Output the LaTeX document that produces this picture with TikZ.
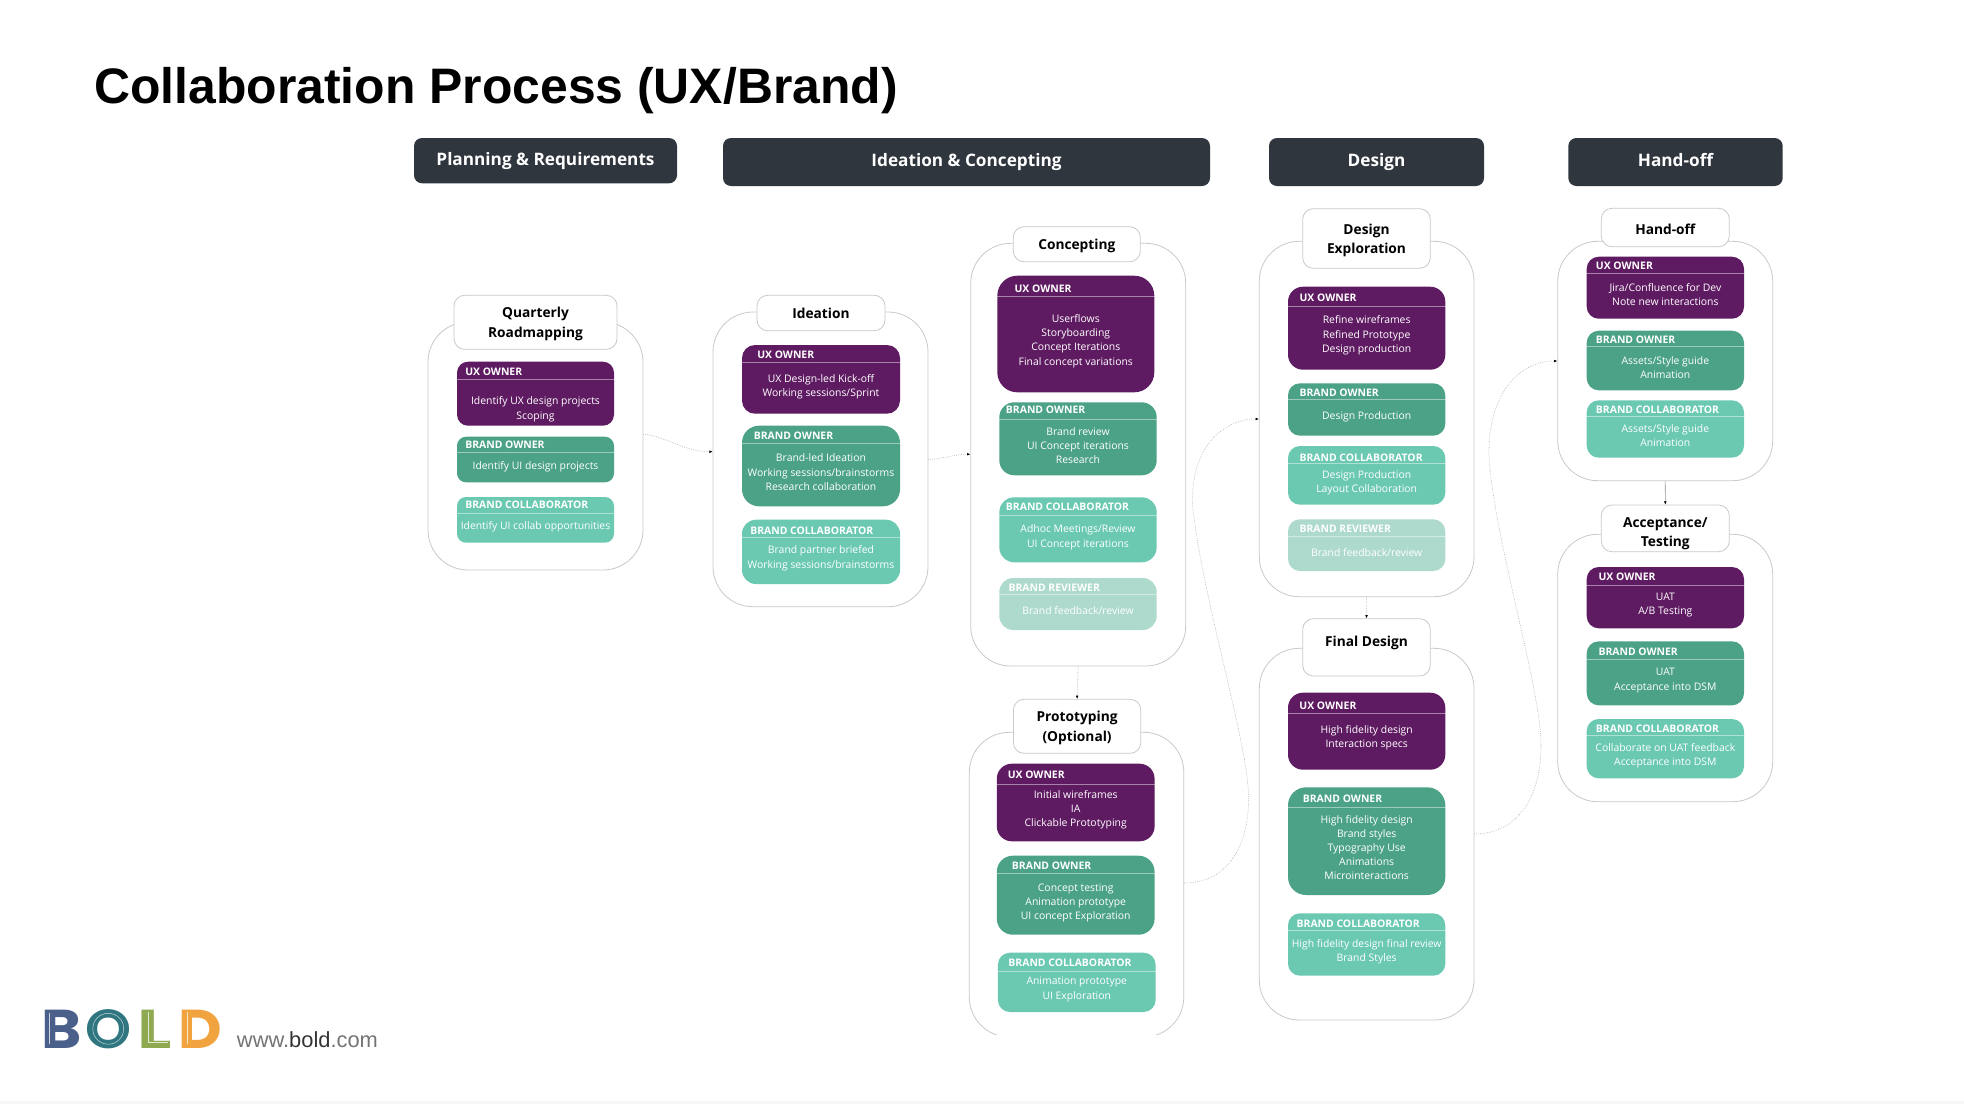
\documentclass[tikz,border=0pt]{standalone}
\usepackage{fontspec}
\setmainfont{Open Sans}
\newfontfamily\arialfont{Liberation Sans}
\newfontfamily\logofont{Poppins}
\usetikzlibrary{arrows.meta}
\definecolor{uxcol}{HTML}{5F1B62}
\definecolor{brandcol}{HTML}{4BA287}
\definecolor{collabcol}{HTML}{6BC9B2}
\definecolor{reviewcol}{HTML}{AEDACD}
\definecolor{headcol}{HTML}{2F363D}
\definecolor{framecol}{HTML}{C9C9C9}
\def\labuxbox{UX OWNER}
\def\labbrandbox{BRAND OWNER}
\def\labcollabbox{BRAND COLLABORATOR}
\def\labreviewbox{BRAND REVIEWER}
\begin{document}
\begin{tikzpicture}[
x=.75pt,y=-.75pt,
rolebox/.style={
  inner sep=0pt,
  text=white
  },
uxbox/.style={rolebox,fill=uxcol},
brandbox/.style={rolebox,fill=brandcol},
collabbox/.style={rolebox,fill=collabcol},
reviewbox/.style={rolebox,fill=reviewcol},
rolelabel/.style={
  anchor=west,
  inner sep=0pt,
  text=white,
  yshift=-.4pt,
  font=\fontsize{7.8}{9}\selectfont\bfseries
  },
roletext/.style={
  inner sep=0pt,
  align=center,
  text=white,
  yshift=-.9pt,
  font=\fontsize{7.8}{10.65}\selectfont
  },
sepline/.style={draw=white,draw opacity=.45,line width=.6pt},
outerbox/.style={
  draw=framecol,
  fill=white,
  line width=.6pt,
  rounded corners=30pt,
  inner sep=0pt
  },
titlebox/.style={
  draw=framecol,
  fill=white,
  line width=.6pt,
  rounded corners=8pt,
  inner sep=0pt
  },
titletext/.style={
  inner sep=0pt,
  align=center,
  yshift=-1.1pt,
  font=\fontsize{10.3}{14.6}\selectfont\bfseries
  },
headbox/.style={
  fill=headcol,
  text=white,
  rounded corners=6pt,
  inner sep=0pt,
  text height=.9em,
  text depth=.2em,
  font=\fontsize{12.9}{14}\selectfont\bfseries
  },
flow/.style={
  draw=gray!85,
  line width=.4pt,
  densely dotted,
  -{Latex[length=2.4pt,width=2pt,black]}
  },
logoletter/.style={
  anchor=base west,
  inner sep=0pt,
  transform shape,
  font=\logofont\fontsize{41}{41}\selectfont\bfseries
  },
logoline/.style={draw=white,draw opacity=.75,line width=.35pt}
]
\useasboundingbox (0,0) rectangle (1964,1104);
\fill[gray!6] (0,1101) rectangle (1964,1104);
\node[anchor=west,inner sep=0pt,font=\arialfont\fontsize{37.4}{44}\selectfont\bfseries] (pagetitle) at (94,91) {Collaboration Process (UX/Brand)};

% phase headers
\foreach \nm/\xa/\xb/\ya/\yb/\txt in {
  hplan/414/677/138/183.3/{Planning \& Requirements},
  hidea/723/1210/138/186/{Ideation \& Concepting},
  hdesign/1269/1484/138/186/{Design},
  hhand/1568.3/1782.7/138/186/{Hand-off}}
  \node[headbox,minimum width={(\xb-\xa)*.75pt},minimum height={(\yb-\ya)*.75pt}] (\nm) at ({(\xa+\xb)/2},{(\ya+\yb)/2}) {\txt};

% frames, with their title tabs
\foreach \nm/\xa/\xb/\ya/\yb/\txa/\txb/\tya/\tyb/\ty/\txt in {
  qrt/428/643/322/570/454/617/295.3/349.3/322.6/{Quarterly\\Roadmapping},
  ide/713/928/312/606.7/757/885/295.3/330.7/311.5/{Ideation},
  cpt/970.7/1185.7/243.3/666/1013.3/1140.3/226.7/261.7/244.3/{Concepting},
  dex/1259.3/1474/241.3/596.7/1302.7/1430.3/208.7/268.3/239/{Design\\Exploration},
  fin/1259.3/1474/648.3/1020/1302.7/1430.3/618.7/676/641.7/{Final Design},
  hnd/1557.7/1772.7/241.3/480.7/1601.3/1729.3/208.3/246.7/228/{Hand-off},
  acc/1557.7/1772.7/534.3/801.7/1601.3/1729.3/505/551.7/532.3/{Acceptance/\\Testing},
  prt/969.3/1183.8/732.3/1037/1013.4/1140.8/699.3/753.3/726.3/{Prototyping\\(Optional)}}
{
  \begin{scope}
    \clip (0,0) rectangle (1964,1034);
    \node[outerbox,minimum width={(\xb-\xa)*.75pt},minimum height={(\yb-\ya)*.75pt}] (\nm) at ({(\xa+\xb)/2},{(\ya+\yb)/2}) {};
  \end{scope}
  \node[titlebox,minimum width={(\txb-\txa)*.75pt},minimum height={(\tyb-\tya)*.75pt}] (\nm-t) at ({(\txa+\txb)/2},{(\tya+\tyb)/2}) {};
  \node[titletext] (\nm-l) at ({(\txa+\txb)/2},\ty) {\txt};
}

% role cards
\foreach \nm/\kind/\xa/\xb/\ya/\yb/\ys/\lx/\ly/\rr/\by/\txt in {
  q1/uxbox/457/614/361.7/425.7/379/465/371/11/408/{Identify UX design projects\\Scoping},
  q2/brandbox/457/614/436.7/482.3/452.3/465/444.3/9/466/{Identify UI design projects},
  q3/collabbox/457/614/497/542.7/513.7/465/504.7/9/526/{Identify UI collab opportunities},
  i1/uxbox/742/900/345/413.7/362.3/757/354.3/13/385.3/{UX Design-led Kick-off\\Working sessions/Sprint},
  i2/brandbox/742/900/425.7/506.3/443.3/753.6/435.7/17/471/{Brand-led Ideation\\Working sessions/brainstorms\\Research collaboration},
  i3/collabbox/742/900/519.7/584/537.3/750/530/14/557/{Brand partner briefed\\Working sessions/brainstorms},
  c1/uxbox/997.3/1154.3/275.7/392.3/296.7/1014.3/288.3/20/339.8/{Userflows\\Storyboarding\\Concept Iterations\\Final concept variations},
  c2/brandbox/999.3/1156.7/402.3/475.3/419/1005.7/409.3/15/444.3/{Brand review\\UI Concept iterations\\Research},
  c3/collabbox/999.3/1156.7/497.3/562.3/515/1005.7/506/15/536/{Adhoc Meetings/Review\\UI Concept iterations},
  c4/reviewbox/999.3/1156.7/578/630/594.7/1008.3/587.5/14/609/{Brand feedback/review},
  p1/uxbox/996.8/1154.6/763.7/841.3/784/1007.5/774/15/808.7/{Initial wireframes\\IA\\Clickable Prototyping},
  p2/brandbox/996.8/1154.6/855.7/934.7/873.7/1011.7/865/16/901.5/{Concept testing\\Animation prototype\\UI concept Exploration},
  p3/collabbox/997.9/1155.6/952.7/1012/971.3/1008.2/962.7/12/988.3/{Animation prototype\\UI Exploration},
  d1/uxbox/1288/1445.3/286.7/369.7/306/1299.3/297.3/15/334.2/{Refine wireframes\\Refined Prototype\\Design production},
  d2/brandbox/1288/1445.3/383.3/435.7/399/1299.3/392.3/12/415.7/{Design Production},
  d3/collabbox/1288/1445.3/446/504.7/463.3/1299.3/457.3/12/481.7/{Design Production\\Layout Collaboration},
  d4/reviewbox/1288/1445.3/519.3/571/536.3/1299.3/528.7/12/551.3/{Brand feedback/review},
  f1/uxbox/1288/1445.3/692.7/769.7/713.7/1299.2/705.3/15/736.5/{High fidelity design\\Interaction specs},
  f2/brandbox/1288/1445.3/787.3/895/807.3/1302.6/798.3/18/846.3/{High fidelity design\\Brand styles\\Typography Use\\Animations\\Microinteractions},
  f3/collabbox/1288/1445.3/913.3/975.7/930.3/1296.4/923.3/12/950.5/{High fidelity design final review\\Brand Styles},
  h1/uxbox/1586.7/1744/256.7/318.7/273.7/1595.7/265/12/293/{Jira/Confluence for Dev\\Note new interactions},
  h2/brandbox/1586.7/1744/330.7/390.3/346/1595.7/339/12/366/{Assets/Style guide\\Animation},
  h3/collabbox/1586.7/1744/400.3/457.7/416.3/1595.7/409/12/434.5/{Assets/Style guide\\Animation},
  a1/uxbox/1586.7/1744/567/628.3/585.3/1598.3/576.3/12/603.8/{UAT\\A/B Testing},
  a2/brandbox/1586.7/1744/641.3/705.3/659.3/1598.3/651.3/12/679.3/{UAT\\Acceptance into DSM},
  a3/collabbox/1586.7/1744/719/778.3/735.3/1595.7/728/12/754.8/{Collaborate on UAT feedback\\Acceptance into DSM}}
{
  \node[\kind,rounded corners={\rr*.75pt},minimum width={(\xb-\xa)*.75pt},minimum height={(\yb-\ya)*.75pt}] (\nm) at ({(\xa+\xb)/2},{(\ya+\yb)/2}) {};
  \draw[sepline] (\nm.west |- 0,\ys) -- (\nm.east |- 0,\ys);
  \node[rolelabel] (\nm-l) at (\lx,\ly) {\csname lab\kind\endcsname};
  \node[roletext] (\nm-b) at ({(\xa+\xb)/2},\by) {\txt};
}

% connectors
\draw[flow] (qrt.east |- 0,434) .. controls (668,437) and (685,452) .. (ide.west |- 0,451.7);
\draw[flow] (ide.east |- 0,459.3) .. controls (945,459) and (955,454) .. (cpt.west |- 0,454.3);
\draw[flow] (cpt.south) -- (prt-t.north);
\draw[flow] (dex.south) -- (fin-t.north);
\draw[flow,solid] (hnd.south) -- (acc-t.north);
\draw[flow] (prt.east |- 0,883) .. controls (1225,883) and (1248,850) .. (1248.6,800)
  .. controls (1249,745) and (1205,610) .. (1193,510)
  .. controls (1188,450) and (1222,419) .. (dex.west |- 0,419);
\draw[flow] (fin.east |- 0,834) .. controls (1515,834) and (1541,800) .. (1541,746)
  .. controls (1541,690) and (1500,560) .. (1490,470)
  .. controls (1483,410) and (1510,361) .. (hnd.west |- 0,361);

% logo
\foreach \nm/\lx/\sx/\col/\txt in {
  logob/41/1.12/4A5F8A/B,
  logoo/85/1.07/2F7680/O,
  logol/137.5/1.32/8FA950/L,
  logod/178/1.1/F0A33F/D}
{
  \definecolor{logocol}{HTML}{\col}
  \node[logoletter,text=logocol,xscale=\sx] (\nm) at (\lx,1048) {\txt};
}
\draw[logoline] (logoo.center) circle [radius=11.6pt];
\draw[logoline] (148,1012) -- (148,1042) -- (168,1042);
\draw[logoline] (187.5,1012) -- (187.5,1044);
\draw[logoline] (49,1013) -- (49,1044);
\node[anchor=base west,inner sep=0pt,font=\arialfont\fontsize{16.4}{18}\selectfont,text=gray!90!black] (logourl) at (236.7,1047) {www.\textcolor{black!80}{bold}.com};
\end{tikzpicture}
\end{document}
